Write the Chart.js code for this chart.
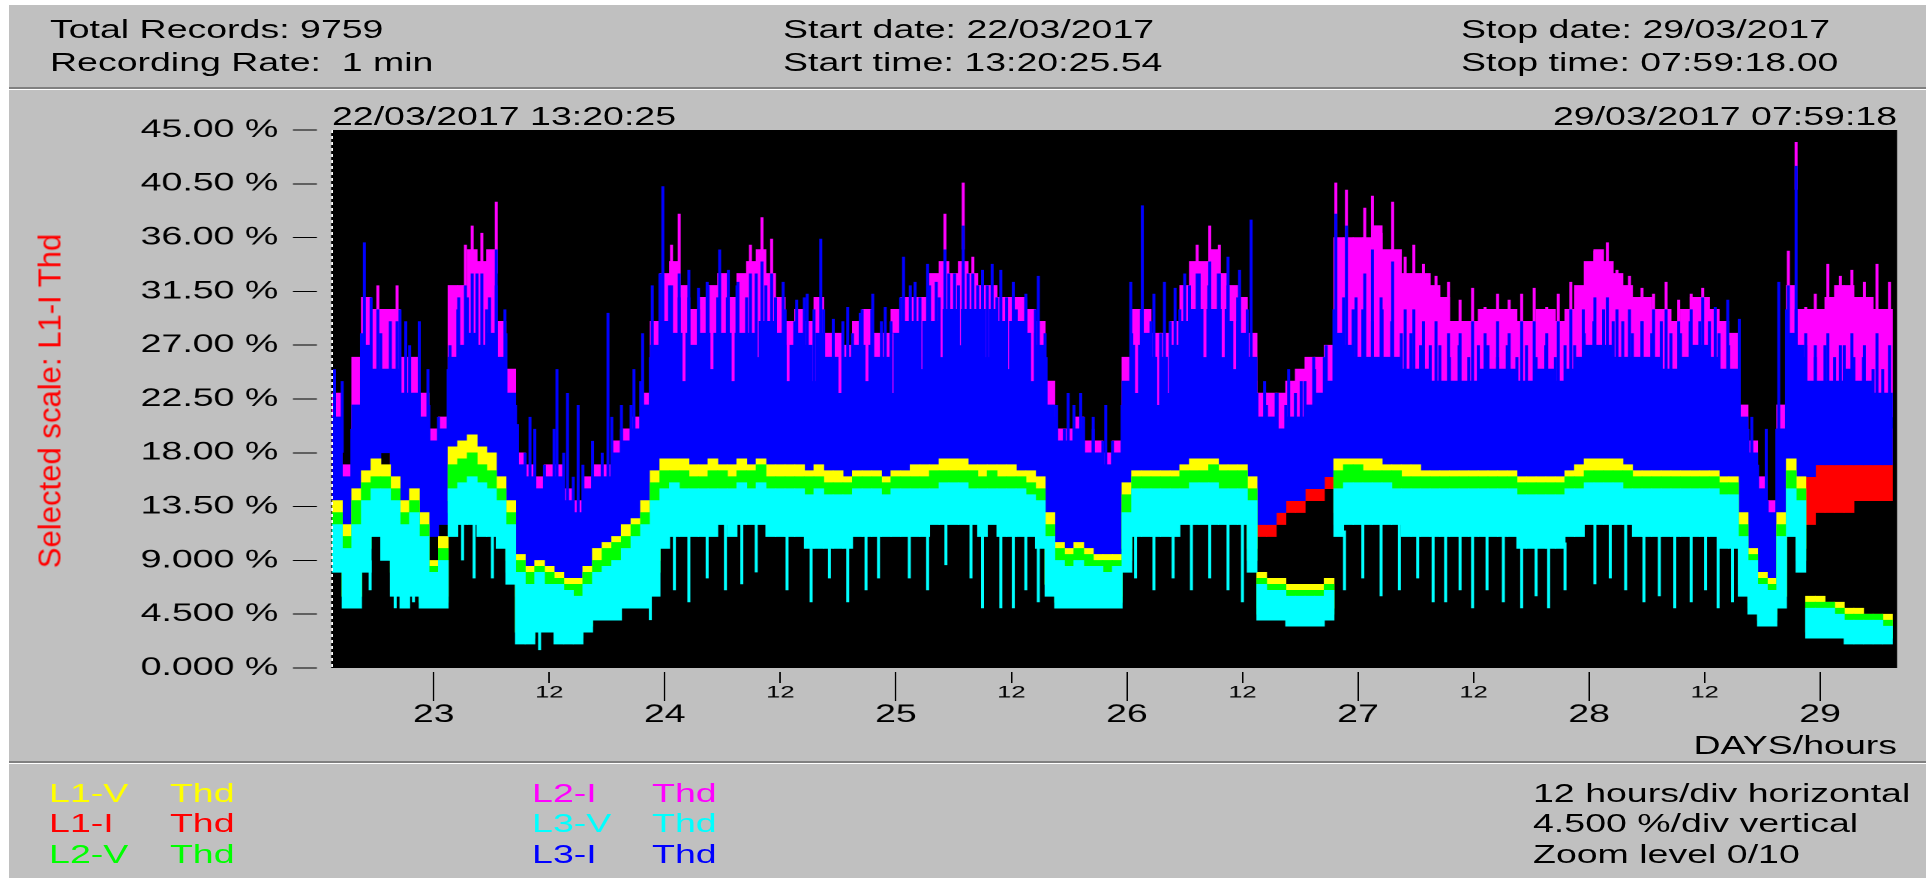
<!DOCTYPE html>
<html><head><meta charset="utf-8">
<script src="https://cdn.jsdelivr.net/npm/chart.js@4.4.1/dist/chart.umd.min.js"></script>
<style>
html,body{margin:0;padding:0;background:#fff;overflow:hidden;width:1926px;height:878px}
#stage{position:absolute;left:0;top:0;width:1284px;height:878px;transform:scaleX(1.5);transform-origin:0 0}
#panel{position:absolute;left:6px;top:5px;width:1278px;height:873px;background:#c0c0c0}
.sep{position:absolute;left:6px;width:1278px;height:2px;background:#808080;border-bottom:1px solid #fff}
.t{position:absolute;font-family:"Liberation Sans",Arial,sans-serif;font-size:25px;line-height:28px;height:28px;white-space:pre;color:#000}
#chart{position:absolute;left:0;top:0;width:1284px;height:878px}
#ytitle{position:absolute;left:32.7px;top:401px;width:0;height:0}
#ytitle span{position:absolute;left:0;top:0;white-space:pre;font-family:"Liberation Sans",Arial,sans-serif;font-size:21px;line-height:24px;color:#ff0000;transform:translate(-50%,-50%) rotate(-90deg) scaleX(1.48)}
</style></head>
<body>
<div id="stage">
  <div id="panel"></div>
  <div class="sep" style="top:87px"></div>
  <div class="sep" style="top:761px"></div>
  <canvas id="chart" width="1284" height="878"></canvas>
  <div class="t" style="left:33.3px;top:15px">Total Records: 9759</div>
  <div class="t" style="left:33.3px;top:48px">Recording Rate:  1 min</div>
  <div class="t" style="left:522px;top:15px">Start date: 22/03/2017</div>
  <div class="t" style="left:522px;top:48px">Start time: 13:20:25.54</div>
  <div class="t" style="left:974px;top:15px">Stop date: 29/03/2017</div>
  <div class="t" style="left:974px;top:48px">Stop time: 07:59:18.00</div>
  <div class="t" style="left:221.3px;top:102px">22/03/2017 13:20:25</div>
  <div class="t" style="right:19.3px;top:102px">29/03/2017 07:59:18</div>
  <div class="t" style="right:19.3px;top:731px">DAYS/hours</div>
  <div id="ytitle"><span>Selected scale: L1-I Thd</span></div>
  <div id="legend"></div>
  <div class="t" style="left:1022px;top:779px">12 hours/div horizontal</div>
  <div class="t" style="left:1022px;top:809px">4.500 %/div vertical</div>
  <div class="t" style="left:1022px;top:840px">Zoom level 0/10</div>
</div>
<script>
// ---------- axis definitions ----------
const XMIN = 13.34;      // 22/03 13:20:25 in hours since 22/03 00:00
const XMAX = 175.988;    // 29/03 07:59:18
const XTICK_VALUES = [24,36,48,60,72,84,96,108,120,132,144,156,168];
const XTICK_LABELS = ['23','12','24','12','25','12','26','12','27','12','28','12','29'];
const YTICK_VALUES = [0,4.5,9,13.5,18,22.5,27,31.5,36,40.5,45];
const YTICK_LABELS = ['0.000 %','4.500 %','9.000 %','13.50 %','18.00 %','22.50 %','27.00 %','31.50 %','36.00 %','40.50 %','45.00 %'];

// hourly bins (centre hour, hours since 22/03 00:00) and the half-hour points between them
const HOURS = Array.from({length:162}, (_, i) => 14 + i);
const HALF_HOURS = Array.from({length:161}, (_, i) => 14.5 + i);

// ---------- series: [min, max] THD % per hour ----------
const L3I = [[12,21],[9,16],[10,22],[16,27],[17,25],[18,25],[15,25],[13,23],[15,23],[13,21],
[11,19],[12,20],
[17,26],[17,27],[18,28],[18,27],[18,28],[16,26],[13,23],
[7,17],[6,16],[6,15],[7,16],[6,16],[6,14],[5,13],[6,15],[7,16],[7,16],[8,18],[9,19],[9,20],[10,22],
[13,27],
[16,29],[16,28],[16,28],[16,27],[16,28],[16,28],[16,28],[16,28],[16,28],[16,28],[16,29],[16,29],
[16,28],[16,27],[16,28],[16,27],[16,28],[16,26],[16,26],[16,26],[16,27],[16,27],[16,26],[16,26],
[16,28],[16,29],[16,29],[16,29],[16,29],[16,30],[16,30],[16,30],[16,30],[16,30],[16,30],[16,29],[16,29],[16,29],[16,28],[16,27],
[12,22],[8,19],[8,19],[9,20],[8,18],[8,18],[7,17],[8,18],
[13,24],[16,27],[16,28],[16,26],[16,26],[16,27],[16,29],[16,30],[16,30],[16,30],[16,30],[16,29],[16,28],[16,26],
[12,21],[12,21],[13,20],[14,21],[14,21],[15,22],[15,23],[16,24],
[16,28],[16,27],[16,26],[16,26],[16,26],[16,26],[16,26],[16,25],[16,25],[16,25],[16,24],[16,24],[16,24],
[16,24],[16,24],[16,25],[16,25],[16,25],[16,25],[16,24],[16,24],[16,25],[16,25],[16,24],[16,25],[16,26],
[16,27],[16,27],[16,27],[16,26],[16,26],[16,26],[16,26],[16,26],[16,25],[16,25],[16,26],[16,27],[16,27],[16,26],[16,25],[16,25],
[12,21],[9,18],[7,15],[6,13],[8,20],
[16,28],[16,27],
[16,24],[17,24],[17,24],[17,24],[17,25],[17,24],[17,24],[17,23],[17,23]];

const L2I = [[18,23],[13,17],[18,26],[24,31],[22,30],[22,30],[22,30],[20,26],[20,26],[18,23],
[16,20],[17,21],
[23,32],[24,32],[25,35],[24,34],[25,35],[23,29],[20,25],
[14,18],[13,17],[12,16],[13,17],[13,17],[11,15],[10,14],[12,16],[13,17],[13,17],[15,19],[16,20],[17,21],[19,23],
[24,29],
[26,33],[25,34],[25,32],[24,30],[25,31],[25,32],[25,33],[25,31],[25,33],[25,34],[26,35],[26,33],
[25,31],[24,29],[25,30],[24,29],[25,31],[23,28],[23,28],[23,27],[24,29],[24,30],[23,28],[23,28],
[25,30],[26,31],[26,31],[26,31],[26,33],[27,34],[27,33],[27,34],[27,33],[27,32],[27,32],[26,31],[26,31],[26,31],[25,30],[24,29],
[19,24],[16,20],[16,20],[17,21],[15,19],[15,19],[14,18],[15,19],
[21,26],[24,30],[25,30],[23,28],[23,28],[24,29],[26,32],[27,34],[27,34],[27,35],[27,33],[26,32],[25,31],[23,28],
[15,23],[15,23],[16,23],[17,24],[17,25],[18,26],[19,26],[20,27],
[26,36],[25,36],[24,36],[24,36],[24,37],[24,35],[24,35],[23,33],[23,33],[23,33],[22,32],[22,31],[22,29],
[22,29],[22,29],[23,30],[23,30],[23,30],[23,30],[22,29],[22,29],[23,30],[23,30],[22,29],[23,30],[24,32],
[25,34],[25,35],[25,34],[24,33],[24,32],[24,31],[24,31],[24,30],[23,30],[23,29],[24,30],[25,31],[25,31],[24,30],[23,29],[23,28],
[17,22],[14,19],[12,16],[10,14],[15,22],
[24,32],[23,30],
[21,30],[21,30],[21,31],[21,32],[22,32],[21,31],[21,31],[21,30],[21,30]];

const L1I = [[14,19],[10,14],[12,17],[18,23],[20,25],[21,25],[17,22],[15,20],[18,22],[15,20],
[13,17],[14,18],
[19,24],[20,25],[21,26],[22,26],[21,26],[18,23],[15,20],
[6,11],[5,10],[5,10],[6,11],[5,10],[5,10],[4.5,9],[5,10],[6,11],[6,11],[7,12],[8,13],[8,13],[9,14],
[15,20],
[20,25],[22,26],[22,26],[21,26],[21,26],[22,26],[21,26],[22,26],[22,27],[23,27],[23,28],[22,27],
[21,26],[21,26],[22,26],[21,26],[21,26],[20,25],[20,25],[20,24],[21,26],[21,26],[20,25],[20,25],
[21,26],[21,26],[22,27],[22,27],[23,27],[23,28],[23,28],[24,28],[23,28],[22,27],[23,27],[22,27],[22,26],[22,26],[21,26],[20,25],
[11,15],[7,12],[7,12],[8,13],[7,12],[7,11],[6.5,11],[7,12],
[15,20],[20,25],[21,26],[20,25],[20,25],[21,26],[23,27],[24,29],[24,29],[24,29],[24,28],[23,28],[22,27],[19,24],
[11,15],[11,15],[12,16],[13,17],[13,17],[14,18],[14,18],[15,19],
[22,26],[23,27],[23,27],[23,27],[23,27],[23,27],[23,27],[22,26],[22,26],[22,26],[22,26],[21,25],[21,25],
[21,25],[21,25],[22,26],[22,26],[22,26],[22,26],[21,25],[21,25],[21,25],[21,25],[20,24],[21,25],[22,26],
[23,27],[23,27],[23,27],[23,27],[22,26],[22,26],[22,26],[22,26],[21,25],[21,25],[21,25],[22,26],[22,26],[22,26],[21,25],[20,24],
[10,15],[7,12],[6,10],[5,9],[8,13],
[15,21],[13,20],
[12,21],[13,22],[13,22],[13,22],[13,21],[14,21],[14,21],[14,20],[14,20]];

const L3V = [[8,12],[5,10],[5,12],[8,14],[11,15],[9,15],[6,14],[5,12],[6,13],[5,11],
[5,8],[5,9],[11,15],[12,15.5],[12,16],[11,15.5],[11,15],[10,14],[7,12],[2,8],
[2,7],[3,8],[3,7],[2,7],[2,6.5],[2,6],[3,7],[4,8],[4,8.5],[4,9],
[5,10],[5,11],[5,12],[6,14],[10,15],[11,15.5],[11,15],[11,15],[11,15],[11,15],
[12,15],[11,15],[12,15.5],[12,15],[12,15.5],[11,15],[11,15],[11,15],[11,15],[10,14.5],
[10,15],[10,14.5],[10,14.5],[10,14.5],[11,15],[11,15],[11,15],[11,14.5],[11,15],[11,15],
[11,15],[11,15],[12,15],[12,15.5],[12,15.5],[12,15.5],[12,15],[11,15],[12,15],[11,15],
[11,15],[11,15],[11,14.5],[10,14],[6,11],[5,9],[5,8.5],[5,9],[5,8.5],[5,8.5],
[5,8],[5,8.5],[8,13],[11,15],[11,15],[11,15],[11,15],[11,15],[12,15],[12,15.5],
[12,15.5],[12,15.5],[12,15],[12,15],[12,15],[8,14],[4,7],[4,6.5],[4,6.5],[3.5,6],
[3.5,6],[3.5,6],[3.5,6],[4,6.5],[11,15],[12,15.5],[12,15.5],[12,15.5],[12,15.5],[12,15.5],
[12,15],[11,15],[11,15],[11,15],[11,15],[11,15],[11,15],[11,15],[11,15],[11,15],
[11,15],[11,15],[11,15],[10,14.5],[10,14.5],[10,14.5],[10,14.5],[10,14.5],[11,15],[11,15],
[12,15.5],[12,15.5],[12,15.5],[12,15.5],[12,15],[11,15],[11,15],[11,15],[11,15],[11,15],
[11,15],[11,15],[11,15],[11,15],[10,14.5],[10,14.5],[6,11],[4.5,9],[3.5,7],[3.5,6.5],
[5,11],[11,15],[8,14],[2.5,5],[2.5,5],[2.5,5],[2.5,4.5],[2,4],[2,4],[2,4],
[2,4],[2,3.5]];

const L2V = [[9,13],[6,11],[6,14],[10,15.5],[12,16],[11,16],[8,15],[6,13],[7,14],[5.5,12],
[5,8.5],[5.5,10],[13,17],[14,17.5],[15,18],[14,17],[13,16.5],[11,15],[8,13],[3,9],
[2.5,8],[3.5,8.5],[3.5,8],[3,7.5],[2.5,7],[2.5,7],[3.5,8],[4.5,9],[5,10],[5,10.5],
[5.5,11],[6,12],[6,13],[8,15.5],[12,16.5],[13,16.5],[13,16.5],[13,16],[13,16],[13,16.5],
[13,16.5],[13,16],[13,16.5],[13,16.5],[13,17],[13,16],[13,16],[13,16],[13,16],[12,16],
[12,16],[12,15.5],[12,15.5],[12,15.5],[12,16],[12,16],[12,16],[12,15.5],[12,16],[12,16],
[12,16],[13,16],[13,16.5],[13,16.5],[13,16.5],[13,16.5],[13,16.5],[13,16],[13,16.5],[13,16],
[13,16],[12,16],[12,15.5],[11,15],[7,12],[5.5,10],[5.5,9.5],[5.5,10],[5.5,9.5],[5.5,9],
[5.5,9],[5.5,9],[9,14.5],[12,16],[12,16],[12,16],[12,16],[12,16],[13,16.5],[13,16.5],
[13,16.5],[13,17],[13,16.5],[13,16.5],[13,16.5],[9,15],[4.5,7.5],[4.5,7],[4.5,7],[4,6.5],
[4,6.5],[4,6.5],[4,6.5],[4.5,7],[12,16.5],[13,17],[13,17],[13,16.5],[13,16.5],[13,16.5],
[13,16.5],[13,16],[13,16],[12,16],[12,16],[12,16],[12,16],[12,16],[12,16],[12,16],
[12,16],[12,16],[12,16],[11,15.5],[11,15.5],[11,15.5],[11,15.5],[11,15.5],[12,16],[12,16],
[13,16.5],[13,16.5],[13,16.5],[13,16.5],[13,16.5],[12,16],[12,16],[12,16],[12,16],[12,16],
[12,16],[12,16],[12,16],[12,16],[11,15.5],[11,15.5],[7,12],[5,9.5],[4,7.5],[4,7],
[6,12],[12,16.5],[9,15],[3,5.5],[3,5.5],[3,5.5],[3,5],[2.5,4.5],[2.5,4.5],[2.5,4.5],
[2.5,4.5],[2.5,4]];

const L1V = [[9,14],[6,12],[6,15],[11,16.5],[13,17.5],[12,17],[9,16],[7,14],[8,15],[6,13],
[5.5,9],[6,11],[14,18.5],[15,19],[16,19.5],[15,18.5],[14,18],[12,16],[9,14],[3,9.5],
[3,8.5],[4,9],[4,8.5],[3,8],[3,7.5],[3,7.5],[4,8.5],[5,10],[5,10.5],[5,11],
[6,12],[6,12.5],[6.5,14],[9,16.5],[13,17.5],[14,17.5],[14,17.5],[14,17],[14,17],[14,17.5],
[14,17],[14,17],[14,17.5],[14,17],[14,17.5],[14,17],[14,17],[14,17],[14,17],[13,16.5],
[13,17],[13,16.5],[13,16.5],[13,16],[13,16.5],[13,16.5],[13,16.5],[13,16],[13,16.5],[13,16.5],
[13,17],[14,17],[14,17],[14,17.5],[14,17.5],[14,17.5],[14,17],[14,17],[14,17],[14,17],
[14,17],[13,16.5],[13,16.5],[12,16],[7,13],[6,10.5],[6,10],[6,10.5],[6,10],[6,9.5],
[6,9.5],[6,9.5],[10,15.5],[13,16.5],[13,16.5],[13,16.5],[13,16.5],[13,16.5],[14,17],[14,17.5],
[14,17.5],[14,17.5],[14,17],[14,17],[14,17],[10,16],[5,8],[5,7.5],[5,7.5],[4.5,7],
[4.5,7],[4.5,7],[4.5,7],[5,7.5],[13,17.5],[14,17.5],[14,17.5],[14,17.5],[14,17.5],[14,17],
[14,17],[14,17],[14,17],[13,16.5],[13,16.5],[13,16.5],[13,16.5],[13,16.5],[13,16.5],[13,16.5],
[13,16.5],[13,16.5],[13,16.5],[12,16],[12,16],[12,16],[12,16],[12,16],[13,16.5],[13,17],
[14,17.5],[14,17.5],[14,17.5],[14,17.5],[14,17],[13,16.5],[13,16.5],[13,16.5],[13,16.5],[13,16.5],
[13,16.5],[13,16.5],[13,16.5],[13,16.5],[12,16],[12,16],[7,13],[5.5,10],[4.5,8],[4.5,7.5],
[6,13],[13,17.5],[10,16],[3,6],[3,6],[3,5.5],[3,5.5],[2.5,5],[2.5,5],[2.5,4.5],
[2.5,4.5],[2.5,4.5]];

// L3-I ragged tops at the half hours: [min, max]
const L3I_TIPS = [[18,24],[12,20],[18,28],[22,31],[21,28],[21,29],[20,30],[19,27],[19,26],[16,22],
[15,21],[17,25],
[22,30],[22,31],[23,33],[22,30],[22,32],[20,28],[16,22],
[11,18],[10,20],[10,17],[11,20],[10,18],[9,16],[9,17],[10,19],[11,18],[11,21],[12,20],[13,22],[14,24],[16,26],
[22,33],
[23,32],[23,31],[23,31],[23,30],[23,32],[23,31],[23,31],[23,32],[23,31],[23,33],[23,32],[23,31],
[22,30],[22,29],[22,31],[22,30],[22,30],[21,28],[21,29],[21,28],[22,30],[22,30],[21,29],[21,29],
[22,31],[23,32],[23,31],[23,32],[23,31],[24,33],[24,32],[24,33],[24,32],[24,32],[24,31],[23,31],[23,30],[23,31],[22,30],[21,28],
[15,21],[13,20],[13,22],[13,21],[12,20],[12,19],[11,19],[13,22],
[19,28],[21,30],[21,29],[21,28],[21,29],[22,30],[23,32],[24,33],[24,32],[24,33],[24,32],[23,31],[22,30],[17,23],
[15,22],[15,23],[15,22],[16,23],[16,24],[17,25],[18,26],[20,30],
[22,31],[21,30],[21,30],[21,29],[21,30],[21,29],[20,28],[20,28],[20,27],[20,27],[20,27],[20,26],[20,27],
[20,26],[20,27],[20,27],[20,26],[20,27],[20,26],[20,27],[20,26],[20,27],[20,26],[20,27],[20,27],[21,28],
[21,29],[21,30],[21,29],[21,29],[21,28],[21,29],[21,28],[21,29],[20,28],[20,28],[21,29],[21,29],[21,29],[20,28],[20,27],[16,23],
[14,20],[11,17],[9,14],[11,20],[18,30],
[20,30],[19,27],
[19,26],[19,27],[19,26],[19,27],[19,26],[19,26],[19,25],[19,25]];

// narrow peaks / dips: [hour, min, max]
const L3I_PEAKS = [[13.7,14,25],[16.8,20,35.6],[18.2,20,30],[20.2,18,29],[21.1,16,29],[22.5,17,29],[23.4,14,25],
[25.7,13,27],[26.6,20,31],[27.3,20,32],[28.0,22,33],[29.0,22,33],[29.8,21,31],[30.5,22,35],[31.4,18,30],[32.7,12,20.4],
[34.0,10,21],[36.8,10,25],[37.9,10,23],[39.0,9,22],[42.1,12,29.7],[43.5,12,22],[44.8,13,25],[45.7,14,28],[46.7,16,32],
[47.8,22,40.3],[48.7,22,32],[49.5,22,33],[50.5,22,33.3],[51.5,22,31.8],[52.4,22,32.3],[53.7,22,35],[54.6,22,33.3],
[55.6,22,32.3],[56.9,22,33],[58.1,22,34],[59.1,22,33],[60.3,21,32.3],[61.7,21,30.8],[62.8,21,31.3],[64.2,21,35.9],
[65.5,20,29.2],[67.0,20,30.2],[68.3,20,29.7],[69.6,20,31.3],[70.9,20,30.2],
[72.8,21,34.4],[74.0,21,32.3],[75.3,21,33.8],[76.2,21,32.3],[77.1,22,35],[78.1,22,33],[79.0,22,37],[80.0,22,33],
[81.0,21,33.3],[82.0,21,33.8],[82.9,21,33.3],[84.2,21,32.3],[85.5,20,31.3],[86.8,20,32.8],[87.6,16,26],[88.7,12,22],
[89.9,11,23],[91.2,11,23],[92.5,10,21],[93.8,10,22],
[96.4,16,32.3],[97.6,18,38.7],[98.8,18,31.3],[99.9,18,32.3],[101.0,18,31.8],[102.0,20,33],[103.3,20,33],[104.6,20,34],
[105.6,20,33],[106.5,20,34.4],[107.7,20,33.3],[108.9,20,37.5],[110.3,13,24],[111.6,13,23],[112.8,14,25],[114.1,15,24],
[115.4,16,26],[116.7,17,27],
[117.7,20,38],[118.8,20,37],[119.8,20,31],[120.7,20,33],[121.5,20,35],[122.4,20,31],[123.6,20,34],[124.9,19,30],
[125.8,19,30],[126.8,19,29],[128.1,19,29],[129.4,19,28],[130.6,19,28],[131.9,19,29],[133.2,19,28],[134.5,19,29],
[135.7,19,28],[137.0,19,29],[138.3,19,29],[139.6,19,28],[140.8,19,29],[142.1,19,30],
[143.4,19,30],[144.6,20,31],[145.9,20,31],[146.9,20,30],[148.2,19,30],[149.5,19,29],[150.7,19,30],[152.0,19,30],
[153.3,19,29],[154.6,19,30],[155.8,19,31],[157.1,19,30.2],[158.4,19,30.8],[159.6,18,29.2],[160.9,12,21],[162.4,9,20],
[163.7,12,32.3],[164.7,18,32],[165.5,20,42],[166.5,18,28],[167.5,17,27],[168.8,18,28],[170.1,18,27],[171.3,18,28],
[172.6,18,27],[173.9,18,28],[175.2,17,27]];

const L2I_PEAKS = [[18.2,27,32],[20.2,26,32],[27.3,30,35.4],[28.0,31,37],[29.0,30,36.4],[29.8,30,34],[30.5,33,39],
[48.7,30,35.4],[49.5,32,38],[50.0,24,30],[52.9,25,31],[55.1,24,30],[56.9,31,35.4],[57.6,26,33],[58.1,32,37.7],[59.1,31,35.9],
[60.8,24,29],[63.5,24,29],[66.2,23,28],[69.0,24,29],[71.6,23,28],[74.6,25,31],[76.7,26,32],
[77.1,33,38],[78.6,27,33],[79.0,35,40.6],[80.0,31,34.4],[81.5,26,31],[83.6,25,30],[86.2,24,29],
[97.0,23,29],[99.3,22,27],[100.4,23,28],[102.5,25,31],[103.3,31,35.4],[104.1,26,32],[104.6,32,37],[105.6,31,35.4],[106.0,26,32],[107.2,25,30],
[117.7,35,40.6],[118.8,34,40],[119.8,29,35.4],[120.7,31,38.5],[121.5,33,39.5],[122.4,29,36.4],[123.6,32,39],
[124.9,28,34.4],[125.8,28,35.4],[126.8,27,33.8],[128.1,27,32.8],[129.4,26,32.3],[130.6,26,30.8],[131.9,27,31.8],
[133.2,26,30.2],[134.5,27,31.3],[135.7,26,30.8],[137.0,27,31.3],[138.3,27,31.8],[139.6,26,30.2],[140.8,27,31.3],
[142.1,28,32.3],[143.4,28,31.8],[144.6,29,34.9],[145.9,29,35.6],[146.9,28,33.3],[148.2,28,32.8],[149.5,27,31.8],
[150.7,28,31.3],[152.0,28,32.3],[153.3,27,30.8],[154.6,28,31.3],[155.8,28,31.8],
[164.7,30,34.9],[165.5,40,44],[166.5,26,30.2],[167.5,26,31.3],[168.8,27,33.8],[170.1,27,32.8],[171.3,27,33.3],
[172.6,27,32.3],[173.9,27,33.8],[175.2,27,32.3]];

const L3V_DIPS = [[14.9,5,9],[17.4,6.5,9],[20.0,5,7],[21.9,5.5,7],[27.0,9,12],[28.2,7.5,12],[30.1,7.5,11.5],[35.0,1.5,4],[46.5,4,6],
[49.0,6.5,11.5],[50.5,5.5,11.5],[52.4,7.5,11.5],[54.3,6.5,12.5],[56.0,7,12.5],[57.5,8,12.5],[60.7,6.5,11.5],[63.2,5.5,10.5],
[65.1,7.5,10.5],[67.0,5.5,10.5],[68.9,6.5,11.5],[70.2,7.5,11.5],
[73.4,7.5,11.5],[75.3,6.5,11.5],[77.2,8.6,12.5],[79.8,7.5,12.5],[81.0,5,11.5],[82.9,5,11.5],[84.2,5,11.5],[85.5,6.5,11.5],[86.8,5.5,10.5],
[96.9,7.5,11.5],[98.8,6.5,11.5],[100.8,7.5,11.5],[102.7,6.5,12.5],[104.6,7.5,12.5],[106.5,6.5,12.5],[108.0,5.5,12.5],
[118.6,6.5,11.5],[120.5,7.5,12.5],[122.4,6,12.5],[124.3,6.5,12.5],[126.2,7.5,11.5],[127.8,5.5,11.5],[129.1,5.5,11.5],
[130.6,6.5,11.5],[131.9,5,11.5],[133.4,6.5,11.5],[135.1,5.5,11.5],[137.0,5,10.5],[138.5,6,10.5],[139.8,5,10.5],[141.5,6.5,10.5],
[144.6,7,12.5],[146.2,7.5,12.5],[147.8,6.5,12.5],[149.7,5.5,11.5],[151.3,6,11.5],[152.9,5,11.5],[154.6,5.5,11.5],
[156.1,6.5,11.5],[157.4,5,11.5],[158.9,5.5,10.5]];

const SERIES_NAMES = ['L1-V','L1-I','L2-V','L2-I','L3-V','L3-I'];
const SERIES_COLORS = ['#ffff00','#ff0000','#00ff00','#ff00ff','#00ffff','#0000ff'];

// ---------- legend (html text) ----------
(function(){
  const lg = document.getElementById('legend');
  const cols = [[32.7,113.3],[354.7,434.7]];
  const rows = [779,809,840];
  SERIES_NAMES.forEach((n, i) => {
    const c = cols[Math.floor(i/3)], r = rows[i%3];
    const a = document.createElement('div'); a.className='t'; a.style.left=c[0]+'px'; a.style.top=r+'px'; a.style.color=SERIES_COLORS[i]; a.textContent=n; lg.appendChild(a);
    const b = document.createElement('div'); b.className='t'; b.style.left=c[1]+'px'; b.style.top=r+'px'; b.style.color=SERIES_COLORS[i]; b.textContent='Thd'; lg.appendChild(b);
  });
})();

// ---------- datasets ----------
function bars(pairs, color, order, label){
  return {type:'bar', label, order, data: HOURS.map((h,i)=>({x:h, y:pairs[i]})),
          backgroundColor: color, borderWidth:0, grouped:false, barPercentage:1, categoryPercentage:1};
}
function needles(list, color, order, label){
  const d = [];
  list.forEach(([h,lo,hi]) => { d.push({x:h,y:lo},{x:h,y:hi},{x:h,y:null}); });
  return {type:'line', label, order, data:d, borderColor:color, borderWidth:2, pointRadius:0,
          spanGaps:false, fill:false, tension:0};
}
const C = SERIES_COLORS;
const datasets = [
  needles(L3V_DIPS, C[4], 0, 'L3-V Thd dips'),
  bars(L3V, C[4], 1, 'L3-V Thd'),
  bars(L2V, C[2], 2, 'L2-V Thd'),
  bars(L1V, C[0], 3, 'L1-V Thd'),
  needles(L3I_PEAKS, C[5], 4, 'L3-I Thd peaks'),
  needles(HALF_HOURS.map((h,i)=>[h, L3I_TIPS[i][0], L3I_TIPS[i][1]]), C[5], 5, 'L3-I Thd tips'),
  needles(L2I_PEAKS, C[3], 6, 'L2-I Thd peaks'),
  bars(L3I, C[5], 7, 'L3-I Thd'),
  bars(L2I, C[3], 8, 'L2-I Thd'),
  bars(L1I, C[1], 9, 'L1-I Thd')
];

const FAMILY = '"Liberation Sans", Arial, sans-serif';
const isDay = c => c && c.tick && XTICK_LABELS[XTICK_VALUES.indexOf(c.tick.value)] !== '12';

const plotBg = {
  id:'plotBg',
  beforeDatasetsDraw(chart){
    const {ctx, chartArea:a} = chart;
    ctx.save(); ctx.fillStyle='#000'; ctx.fillRect(a.left, a.top, a.right-a.left, a.bottom-a.top); ctx.restore();
  },
  afterDatasetsDraw(chart){
    const {ctx, chartArea:a} = chart;
    ctx.save(); ctx.strokeStyle='#fff'; ctx.lineWidth=1.3; ctx.setLineDash([3,3]);
    ctx.beginPath(); ctx.moveTo(a.left+0.65, a.top); ctx.lineTo(a.left+0.65, a.bottom); ctx.stroke(); ctx.restore();
  }
};

Chart.defaults.font.family = FAMILY;
new Chart(document.getElementById('chart'), {
  type:'bar',
  data:{datasets},
  plugins:[plotBg],
  options:{
    responsive:false, animation:false, devicePixelRatio:2, events:[],
    layout:{padding:{left:0, top:130, right:19.3, bottom:0}},
    plugins:{legend:{display:false}, title:{display:false}, tooltip:{enabled:false}},
    scales:{
      x:{
        type:'linear', position:'bottom', min:XMIN, max:XMAX, offset:false,
        afterBuildTicks: s => { s.ticks = XTICK_VALUES.map(v => ({value:v})); },
        afterFit: s => { s.height = 210; },
        border:{display:false},
        grid:{display:true, offset:false, drawOnChartArea:false, drawTicks:true, tickLength:33,
              tickColor:'#000', tickWidth:1,
              tickBorderDash: c => isDay(c) ? [29,200] : [11,200],
              tickBorderDashOffset: c => isDay(c) ? 225 : 207},
        ticks:{autoSkip:false, maxRotation:0, minRotation:0, padding:-20, color:'#000',
               callback: v => XTICK_LABELS[XTICK_VALUES.indexOf(v)],
               font: c => isDay(c) ? {family:FAMILY, size:25, lineHeight:'68px'} : {family:FAMILY, size:17, lineHeight:'24px'}}
      },
      y:{
        type:'linear', position:'left', min:0, max:45,
        afterBuildTicks: s => { s.ticks = YTICK_VALUES.map(v => ({value:v})); },
        afterFit: s => { s.width = 220.7; },
        border:{display:false},
        grid:{display:true, drawOnChartArea:false, drawTicks:true, tickLength:25.4, tickColor:'#000', tickWidth:1,
              tickBorderDash:[16,100]},
        ticks:{autoSkip:false, padding:9.8, color:'#000',
               callback: v => YTICK_LABELS[YTICK_VALUES.indexOf(v)],
               font:{family:FAMILY, size:25}}
      }
    }
  }
});
</script>
</body></html>
